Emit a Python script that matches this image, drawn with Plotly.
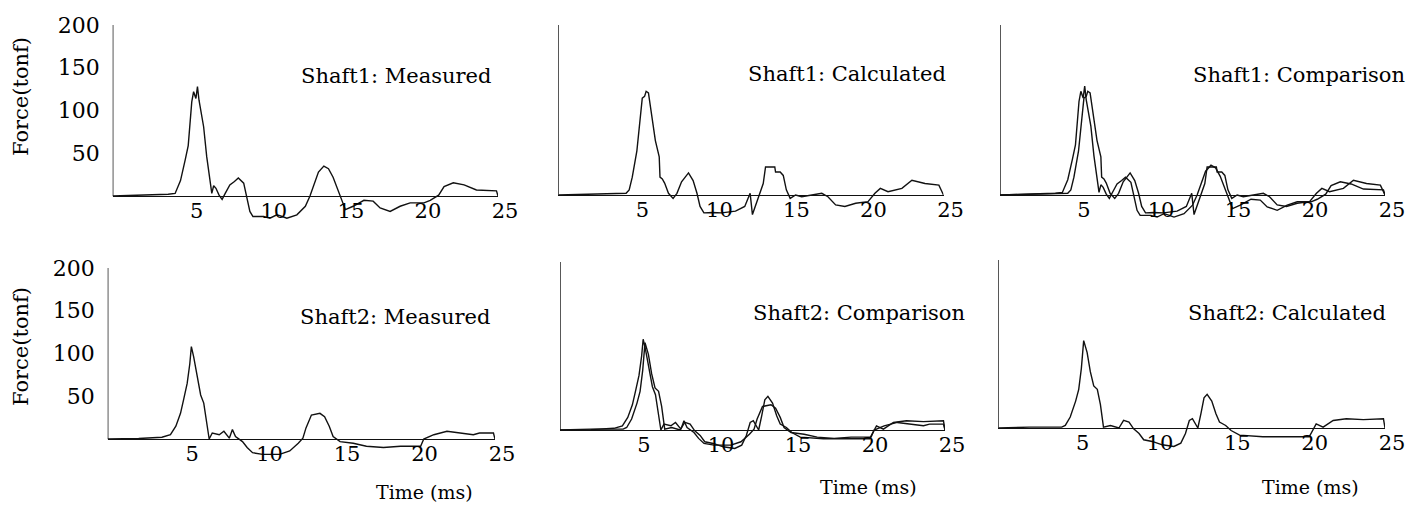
import plotly.graph_objects as go

# ---------------- data ----------------
t_s1_meas = [0, 1.0, 2.0, 3.0, 3.6, 4.05, 4.4, 4.7, 4.9, 5.13, 5.25, 5.4, 5.5, 5.6, 5.9, 6.1, 6.3,
             6.43, 6.55, 6.7, 6.9, 7.1, 7.3, 7.6, 7.9, 8.15, 8.5, 8.7, 8.9, 9.1, 9.8, 10.2, 10.65,
             11.0, 11.3, 11.95, 12.5, 12.8, 13.1, 13.35, 13.7, 14.0, 14.3, 14.65, 14.9, 15.1, 15.6,
             16.3, 16.9, 17.35, 18.0, 18.65, 19.3, 20.2, 20.6, 21.15, 21.5, 22.1, 22.8, 23.6, 24.9, 25.0]
f_s1_meas = [0, 0.5, 1, 1.5, 2, 3, 18, 42, 59, 110, 122, 114, 128, 112, 81, 46, 19,
             3, 12, 9, 1, -4, 3, 13, 17, 21, 15, 0, -18, -24, -24, -26, -22,
             -24, -26, -22, -12, 0, 15, 28, 35, 32, 22, 5, -8, -16, -12,
             -5, -6, -14, -18, -12, -8, -8, -5, 1, 11, 15.5, 13, 7, 6, 0]

t_s1_calc = [0, 2.0, 3.5, 4.4, 4.6, 4.8, 5.1, 5.3, 5.45, 5.6, 5.7, 5.85, 6.05, 6.3, 6.55, 6.6,
             6.75, 6.9, 7.15, 7.45, 7.7, 8.0, 8.45, 8.75, 9.0, 9.2, 9.45, 10.0, 10.6, 11.5, 12.1,
             12.45, 12.6, 12.8, 13.0, 13.3, 13.45, 14.05, 14.1, 14.4, 14.6, 14.8, 15.05, 15.4,
             15.8, 16.45, 17.1, 17.5, 18.0, 18.6, 19.3, 20.1, 20.55, 20.9, 21.4, 22.3, 22.95,
             23.8, 24.7, 25.0]
f_s1_calc = [0, 1, 2, 2, 6, 21, 52, 87, 114, 116, 122, 120, 95, 64, 45, 21,
             19, 14, 2, -4, 2, 15.5, 26, 17, 2, -13.5, -21, -20.5, -21, -19, -13.5,
             2, -23, -13, -2, 13.5, 33, 33, 27, 27, 23, 6, -4, 0,
             -2, 0, 2, -2, -11.6, -13.5, -9.7, -7.8, 2, 7.8, 3.9, 7.8, 17.4,
             13.6, 11.6, 0]

t_s2_meas = [0, 2.0, 3.5, 4.05, 4.4, 4.7, 4.9, 5.13, 5.3, 5.4, 5.55, 5.8, 6.0, 6.2, 6.45, 6.55,
             6.75, 7.2, 7.5, 7.85, 8.05, 8.25, 8.7, 9.0, 9.35, 10.0, 11.1, 11.75, 12.3, 12.6,
             12.8, 13.15, 13.7, 14.0, 14.3, 14.55, 15.0, 15.85, 16.7, 17.8, 18.9, 20.2, 20.4,
             21.05, 21.9, 22.8, 23.6, 24.0, 24.9, 25.0]
f_s2_meas = [0, 0.5, 2, 5, 15, 30, 46, 65, 88, 108, 96, 73, 51.5, 42, 15, 0,
             7, 5, 9, 1, 11, 3, -3, -10, -16, -18, -18, -14, -5, 1,
             13, 28, 30, 26, 15, 3, -3, -5, -8.5, -10, -8.5, -8.5, 0,
             5, 9, 7, 5, 7, 7, 0]

t_s2_calc = [0, 2.0, 4.1, 4.33, 4.65, 5.0, 5.2, 5.37, 5.52, 5.74, 5.95, 6.17, 6.4, 6.6, 6.8,
             7.25, 7.8, 8.1, 8.45, 8.75, 9.1, 9.4, 9.95, 10.6, 11.35, 11.8, 12.1, 12.35, 12.55,
             12.77, 12.9, 13.1, 13.3, 13.5, 13.8, 14.07, 14.3, 14.7, 15.05, 15.6, 17.1, 18.6,
             20.1, 20.55, 21.0, 21.65, 22.5, 23.6, 24.7, 24.9, 25.0]
f_s2_calc = [0, 1, 1, 3, 13, 32, 46, 71, 104, 90, 67, 50, 46, 28, 1,
             3, 0, 9, 7, -1, -6.5, -14, -16, -20, -22, -18, -6.5, 9, 11,
             5, 0, 17, 36, 40, 32, 17, 7, 3, -3, -8.5, -10.5, -10.5,
             -10.5, 5, 1, 9, 11, 10, 11, 11, 0]

x_ticks = [5, 10, 15, 20, 25]
y_ticks = [50, 100, 150, 200]
panel_titles = ["Shaft1: Measured", "Shaft1: Calculated", "Shaft1: Comparison",
                "Shaft2: Measured", "Shaft2: Comparison", "Shaft2: Calculated"]
y_title = "Force(tonf)"
x_title = "Time (ms)"

series = {
    "s1m": (t_s1_meas, f_s1_meas),
    "s1c": (t_s1_calc, f_s1_calc),
    "s2m": (t_s2_meas, f_s2_meas),
    "s2c": (t_s2_calc, f_s2_calc),
}
panel_series = [["s1m"], ["s1c"], ["s1m", "s1c"], ["s2m"], ["s2m", "s2c"], ["s2c"]]

# ---------------- layout geometry (window pixels) ----------------
W, H = 1421, 506
PAGE_OFF = 8  # default page margin around the figure div
YMIN, YMAX = -35, 200
# left(x=0), right(x=25), baseline(y=0), top(y=200), title right edge, title centre y
geo = [
    (112.7, 498, 196, 25, 493, 76),
    (558.3, 943.5, 195, 25, 948, 74),
    (1000, 1385, 195, 25, 1407, 75),
    (107.7, 495, 439, 268, 492, 317),
    (560, 945, 430, 262, 967, 313),
    (998.3, 1385, 428, 260, 1388, 313),
]

def fx(p):
    return (p - PAGE_OFF) / W

def fy(p):
    return 1 - (p - PAGE_OFF) / H

FONT = "DejaVu Serif"
LINE = "#111111"
TXT = "#000000"

fig = go.Figure()
layout = dict(width=W, height=H, margin=dict(l=0, r=0, t=0, b=0, pad=0, autoexpand=False),
              paper_bgcolor="white", plot_bgcolor="white", showlegend=False,
              font=dict(family=FONT, color=TXT))
annotations = []
shapes = []

for i, (left, right, base, top, tr, ty) in enumerate(geo):
    n = i + 1
    xa = "x" if n == 1 else f"x{n}"
    ya = "y" if n == 1 else f"y{n}"
    s = (base - top) / YMAX
    dom_bottom = base + (-YMIN) * s
    for key in panel_series[i]:
        tx, fv = series[key]
        fig.add_trace(go.Scatter(x=tx, y=fv, mode="lines", xaxis=xa, yaxis=ya,
                                 line=dict(color=LINE, width=1.4), hoverinfo="skip"))
    layout[f"xaxis{'' if n == 1 else n}"] = dict(
        domain=[fx(left), fx(right)], range=[0, 25], anchor="free", position=fy(base),
        automargin=False, showgrid=False, zeroline=False, showline=False, ticks="",
        tickvals=x_ticks, ticktext=[str(v) for v in x_ticks], ticklabelshift=7,
        tickfont=dict(family=FONT, size=21, color=TXT))
    layout[f"yaxis{'' if n == 1 else n}"] = dict(
        domain=[fy(dom_bottom), fy(top)], range=[YMIN, YMAX], anchor=xa,
        automargin=False, showgrid=False, zeroline=True, zerolinecolor=LINE, zerolinewidth=1.4,
        showline=False, ticks="", tickvals=y_ticks,
        showticklabels=(n in (1, 4)), ticklabelstandoff=12,
        tickfont=dict(family=FONT, size=22, color=TXT))
    # vertical axis line from 0 to 200
    shapes.append(dict(type="line", xref=xa, yref=ya, x0=0, x1=0, y0=0, y1=YMAX,
                       line=dict(color=LINE, width=1.4)))
    annotations.append(dict(text=panel_titles[i], x=fx(tr), y=fy(ty), xref="paper", yref="paper",
                            xanchor="right", yanchor="middle", showarrow=False,
                            font=dict(family=FONT, size=21, color=TXT)))

# y titles
for yc in (97, 347):
    annotations.append(dict(text=y_title, x=fx(21), y=fy(yc), xref="paper", yref="paper",
                            xanchor="center", yanchor="middle", textangle=-90, showarrow=False,
                            font=dict(family=FONT, size=21, color=TXT)))
# x titles
for xc, yc in ((424, 492), (868, 487), (1310, 487)):
    annotations.append(dict(text=x_title, x=fx(xc), y=fy(yc), xref="paper", yref="paper",
                            xanchor="center", yanchor="middle", showarrow=False,
                            font=dict(family=FONT, size=19, color=TXT)))

layout["annotations"] = annotations
layout["shapes"] = shapes
fig.update_layout(**layout)
fig.write_html("out.html")
